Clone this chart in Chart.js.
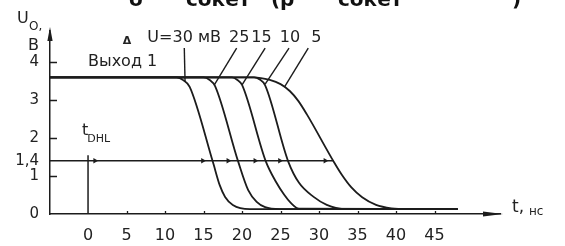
<!DOCTYPE html>
<html>
<head>
<meta charset="utf-8">
<script src="https://cdn.jsdelivr.net/npm/chart.js@4.4.1/dist/chart.umd.min.js"></script>
<style>
  html, body { margin: 0; padding: 0; background: #fff; }
  #wrap { width: 565px; height: 246px; }
</style>
</head>
<body>
<div id="wrap"><canvas id="myChart" width="565" height="246"></canvas></div>
<script>
// axis ticks
const xTicks = [0, 5, 10, 15, 20, 25, 30, 35, 40, 45];
const yTicks = [0, 1, 1.4, 2, 3, 4];
const yTickLabels = ['0', '1', '1,4', '2', '3', '4'];

// curve labels, mV
const deltaU = ['U=30 мВ', '25', '15', '10', '5'];
const deltaLabelT = [7.7, 18.3, 21.2, 24.9, 29.0];

// output voltage U_O (V) vs t (ns), one pair per ΔU
const t30 = [-4.94, 11.5, 12.4, 13.2, 16.2, 17.1, 17.8, 18.8, 21.0, 48];
const u30 = [3.6, 3.6, 3.52, 3.35, 1.38, 0.76, 0.45, 0.24, 0.13, 0.13];
const t25 = [-4.94, 15.0, 15.8, 16.5, 19.5, 20.8, 21.9, 23.0, 24.9, 48];
const u25 = [3.6, 3.6, 3.53, 3.37, 1.38, 0.63, 0.32, 0.18, 0.13, 0.13];
const t15 = [-4.94, 18.7, 19.4, 20.0, 23.1, 24.4, 25.5, 26.3, 27.4, 48];
const u15 = [3.6, 3.6, 3.53, 3.4, 1.38, 0.85, 0.5, 0.3, 0.14, 0.13];
const t10 = [-4.94, 21.6, 22.3, 23.0, 26.0, 27.4, 29.3, 31.0, 33.2, 48];
const u10 = [3.6, 3.6, 3.54, 3.39, 1.38, 0.82, 0.45, 0.24, 0.13, 0.13];
const t5 = [-4.94, 21.5, 23.6, 25.0, 26.2, 27.3, 28.4, 31.9, 33.0, 34.2, 35.6, 37.4, 39.4, 41.5, 48];
const u5 = [3.6, 3.6, 3.53, 3.42, 3.24, 2.98, 2.63, 1.38, 1.02, 0.7, 0.44, 0.24, 0.15, 0.13, 0.13];

// threshold line with arrows, and the t = 0 marker
const thresholdU = 1.4;
const thresholdT = [-4.94, 31.9];
const arrowT = [0.9, 14.9, 18.2, 21.7, 24.9, 30.8];
const markerT = [0, 0];
const markerU = [0, 1.55];

// leader lines from labels to curves
const leadTopT = [12.5, 19.3, 23.0, 26.1, 28.6];
const leadTopU = [4.37, 4.37, 4.37, 4.37, 4.37];
const leadEndT = [12.6, 16.4, 20.0, 23.0, 25.5];
const leadEndU = [3.48, 3.4, 3.4, 3.42, 3.34];

const ink = '#1c1c1c';
const fontFamily = '"DejaVu Sans", sans-serif';

function zip(ts, us) {
    return ts.map((t, i) => ({x: t, y: us[i]}));
}

function curve(ts, us) {
    return {
        data: zip(ts, us),
        borderColor: ink,
        borderWidth: 1.8,
        pointRadius: 0,
        cubicInterpolationMode: 'monotone',
        fill: false
    };
}

function straight(points, width) {
    return {
        data: points,
        borderColor: ink,
        borderWidth: width,
        pointRadius: 0,
        tension: 0,
        fill: false
    };
}

const datasets = [
    curve(t30, u30),
    curve(t25, u25),
    curve(t15, u15),
    curve(t10, u10),
    curve(t5, u5),
    straight(zip(thresholdT, thresholdT.map(() => thresholdU)), 1.5),
    straight(zip(markerT, markerU), 1.5)
];
leadTopT.forEach((t, i) => {
    datasets.push(straight([{x: t, y: leadTopU[i]}, {x: leadEndT[i], y: leadEndU[i]}], 1.4));
});
datasets.push({
    data: zip(arrowT, arrowT.map(() => thresholdU)),
    showLine: false,
    pointStyle: 'triangle',
    rotation: 90,
    pointRadius: 3.2,
    backgroundColor: ink,
    borderColor: ink,
    borderWidth: 0
});

function text(ctx, str, px, py, size, align, weight) {
    ctx.font = (weight || 'normal') + ' ' + size + 'px ' + fontFamily;
    ctx.textAlign = align || 'left';
    ctx.textBaseline = 'middle';
    ctx.fillText(str, px, py);
}

const extras = {
    id: 'extras',
    afterDraw(chart) {
        const {ctx, chartArea: a, scales: {x, y}} = chart;
        ctx.save();
        ctx.fillStyle = ink;
        ctx.strokeStyle = ink;

        // axis arrowheads
        ctx.beginPath();
        ctx.moveTo(a.left, a.top - 4);
        ctx.lineTo(a.left - 2.6, a.top + 10);
        ctx.lineTo(a.left + 2.6, a.top + 10);
        ctx.closePath();
        ctx.fill();
        ctx.beginPath();
        ctx.moveTo(a.right + 3, a.bottom);
        ctx.lineTo(a.right - 17, a.bottom - 2.6);
        ctx.lineTo(a.right - 17, a.bottom + 2.6);
        ctx.closePath();
        ctx.fill();

        // inward tick marks
        ctx.lineWidth = 1.3;
        ctx.beginPath();
        [1, 2, 3, 4].forEach((v) => {
            const py = Math.round(y.getPixelForValue(v)) + 0.5;
            ctx.moveTo(a.left, py);
            ctx.lineTo(a.left + 7, py);
        });
        xTicks.slice(1).forEach((v) => {
            const px = Math.round(x.getPixelForValue(v)) + 0.5;
            ctx.moveTo(px, a.bottom);
            ctx.lineTo(px, a.bottom - 3);
        });
        ctx.stroke();

        ctx.fillStyle = '#222';
        // axis titles
        text(ctx, 'U', 17, 19, 16);
        text(ctx, 'O,', 29, 27, 12);
        text(ctx, 'B', 28, 46, 16);
        text(ctx, 't,', 512, 208, 17);
        text(ctx, 'нс', 529, 212, 12);

        // annotations placed in data units
        text(ctx, 'Выход 1', x.getPixelForValue(0), y.getPixelForValue(4.0), 16);
        text(ctx, 't', x.getPixelForValue(-0.8), y.getPixelForValue(2.2), 16);
        text(ctx, 'DHL', x.getPixelForValue(-0.1), y.getPixelForValue(1.98), 11);
        text(ctx, 'Δ', x.getPixelForValue(4.5), y.getPixelForValue(4.55), 11, 'left', 'bold');
        deltaU.forEach((s, i) => {
            text(ctx, s, x.getPixelForValue(deltaLabelT[i]), y.getPixelForValue(4.63), 16);
        });

        // caption line cut off at the top of the scan
        ctx.fillStyle = '#111';
        ctx.font = 'bold 20px ' + fontFamily;
        ctx.textAlign = 'left';
        ctx.textBaseline = 'alphabetic';
        ctx.fillText('о', 129, 6);
        ctx.fillText('сокет', 186, 6);
        ctx.fillText('(', 271, 6);
        ctx.fillText('р', 280, 6);
        ctx.fillText('сокет', 338, 6);
        ctx.fillText(')', 512, 6);
        ctx.restore();
    }
};

const tickFont = {family: fontFamily, size: 15};

new Chart(document.querySelector('#myChart'), {
    type: 'line',
    data: {datasets: datasets},
    options: {
        responsive: false,
        animation: false,
        devicePixelRatio: 1,
        layout: {padding: {top: 31, right: 65, left: 0, bottom: 0}},
        plugins: {legend: {display: false}, tooltip: {enabled: false}},
        scales: {
            x: {
                type: 'linear',
                min: -4.94,
                max: 53.5,
                afterBuildTicks: (s) => { s.ticks = xTicks.map((v) => ({value: v})); },
                afterFit: (s) => { s.height = 32; },
                ticks: {autoSkip: false, maxRotation: 0, padding: 12, color: '#222', font: {family: fontFamily, size: 16}},
                grid: {display: false, drawTicks: false},
                border: {display: true, color: ink, width: 1.5}
            },
            y: {
                type: 'linear',
                min: 0,
                max: 4.82,
                afterBuildTicks: (s) => { s.ticks = yTicks.map((v) => ({value: v})); },
                afterFit: (s) => { s.width = 50; },
                ticks: {autoSkip: false, padding: 11, color: '#222', font: tickFont,
                    callback: (v, i) => yTickLabels[i]},
                grid: {display: false, drawTicks: false},
                border: {display: true, color: ink, width: 1.5}
            }
        }
    },
    plugins: [extras]
});
</script>
</body>
</html>
